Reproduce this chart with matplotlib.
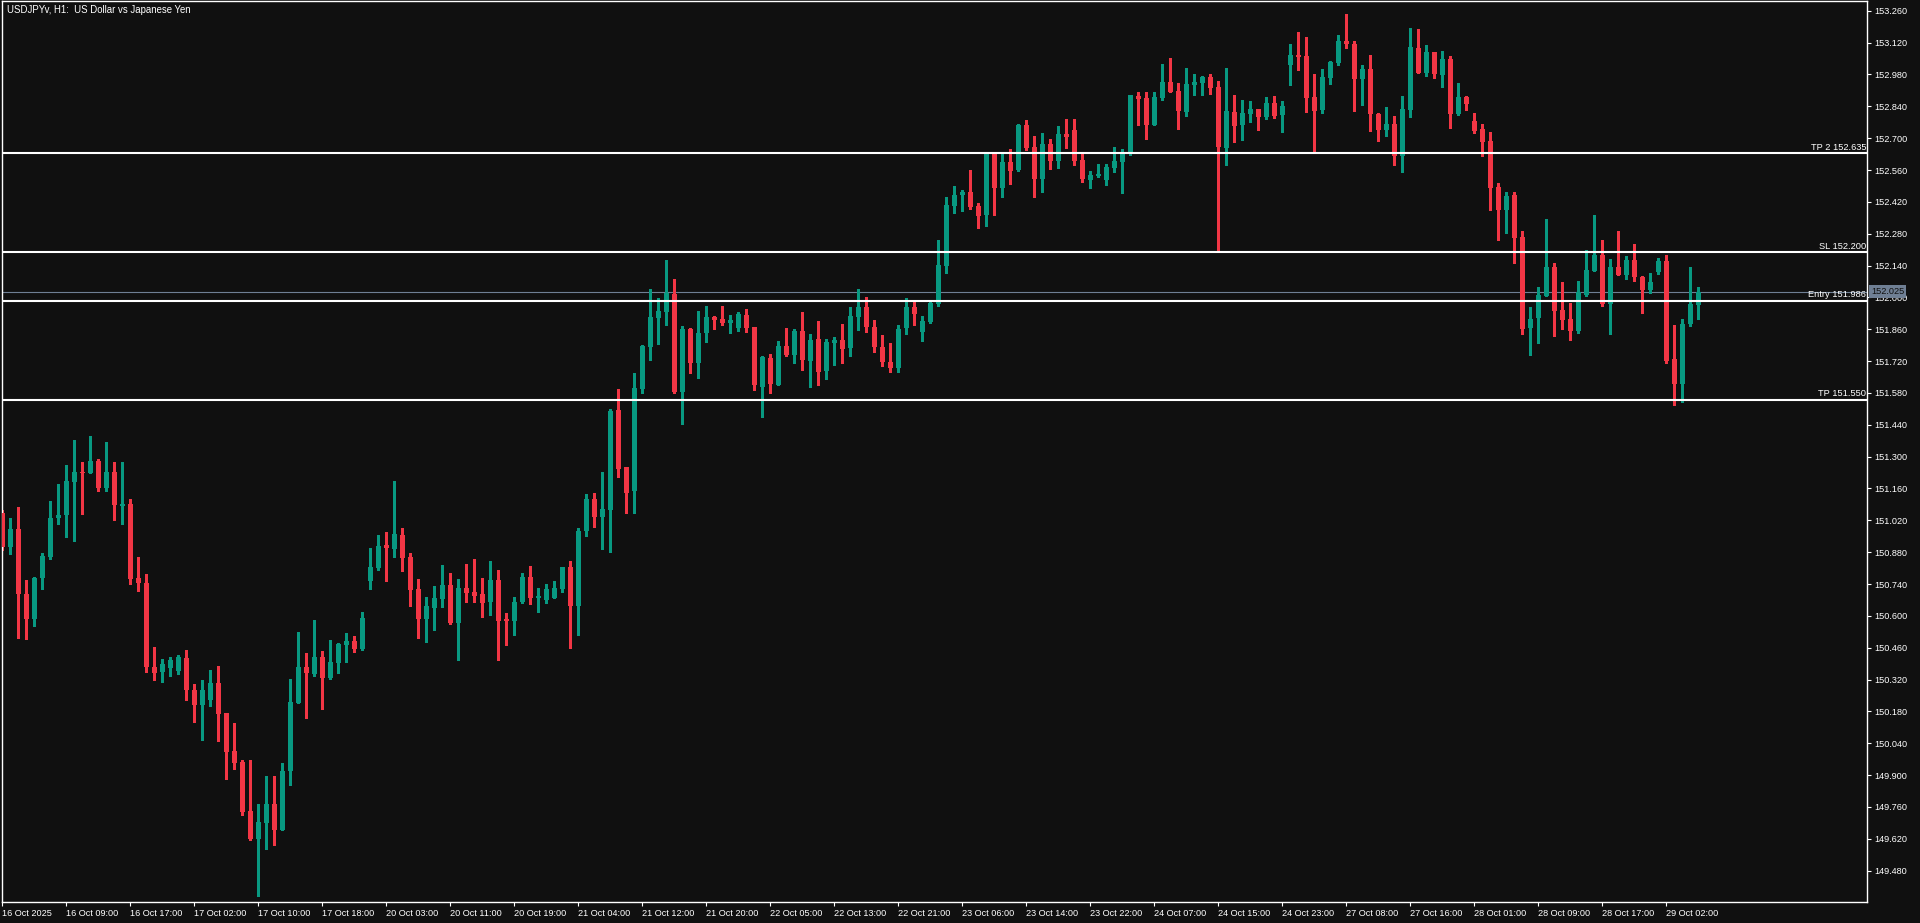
import numpy as np
import matplotlib
matplotlib.use("Agg")
import matplotlib.pyplot as plt
from matplotlib.transforms import blended_transform_factory

plt.rcParams['font.family'] = ['Liberation Sans', 'DejaVu Sans']

# USDJPYv H1 candles, 16 Oct 01:00 .. 29 Oct 04:00
opens = [151.052, 150.902, 150.981, 150.696, 150.586, 150.766, 150.858, 151.030, 151.043, 151.188,
         151.232, 151.228, 151.280, 151.162, 151.232, 151.083, 151.091, 150.766, 150.744, 150.375,
         150.353, 150.371, 150.357, 150.415, 150.274, 150.208, 150.230, 150.305, 150.173, 150.006,
         149.957, 149.743, 149.619, 149.690, 149.773, 149.659, 149.918, 150.217, 150.375, 150.344,
         150.419, 150.327, 150.393, 150.472, 150.489, 150.454, 150.753, 150.810, 150.911, 150.893,
         150.955, 150.858, 150.718, 150.586, 150.635, 150.674, 150.736, 150.569, 150.723, 150.705,
         150.696, 150.661, 150.758, 150.586, 150.578, 150.661, 150.771, 150.679, 150.670, 150.679,
         150.718, 150.815, 150.643, 150.973, 151.113, 151.034, 151.065, 151.505, 151.254, 151.149,
         151.597, 151.782, 151.909, 151.936, 152.014, 151.584, 151.861, 151.711, 151.843, 151.914,
         151.905, 151.887, 151.865, 151.922, 151.870, 151.606, 151.733, 151.615, 151.786, 151.747,
         151.852, 151.720, 151.817, 151.676, 151.799, 151.812, 151.777, 151.914, 151.958, 151.870,
         151.782, 151.716, 151.689, 151.865, 151.958, 151.848, 151.892, 151.971, 152.138, 152.401,
         152.450, 152.463, 152.401, 152.362, 152.630, 152.481, 152.595, 152.560, 152.758, 152.661,
         152.520, 152.674, 152.599, 152.718, 152.736, 152.604, 152.516, 152.533, 152.516, 152.569,
         152.595, 152.639, 152.885, 152.876, 152.758, 152.876, 152.947, 152.907, 152.815, 152.933,
         152.942, 152.969, 152.925, 152.656, 152.815, 152.758, 152.806, 152.828, 152.793, 152.854,
         152.801, 153.021, 153.065, 153.061, 152.881, 152.823, 152.964, 153.030, 153.127, 153.114,
         152.960, 153.004, 152.806, 152.736, 152.762, 152.621, 152.823, 153.096, 152.986, 153.078,
         152.977, 153.048, 152.806, 152.881, 152.775, 152.740, 152.687, 152.485, 152.384, 152.450,
         152.265, 151.865, 151.909, 152.006, 152.133, 151.944, 151.905, 151.852, 152.010, 152.116,
         152.186, 151.971, 152.133, 152.098, 152.164, 152.089, 152.032, 152.111, 152.160, 151.729,
         151.619, 151.883, 151.966]
highs = [151.065, 151.030, 151.078, 150.758, 150.771, 150.876, 151.105, 151.179, 151.263, 151.373,
         151.276, 151.391, 151.289, 151.364, 151.276, 151.276, 151.113, 150.858, 150.784, 150.463,
         150.410, 150.419, 150.428, 150.450, 150.300, 150.318, 150.362, 150.380, 150.173, 150.129,
         149.966, 149.966, 149.773, 149.896, 149.896, 149.953, 150.322, 150.529, 150.437, 150.582,
         150.446, 150.494, 150.481, 150.525, 150.511, 150.617, 150.898, 150.955, 150.968, 151.193,
         150.986, 150.876, 150.762, 150.683, 150.731, 150.823, 150.788, 150.762, 150.828, 150.849,
         150.766, 150.841, 150.801, 150.613, 150.683, 150.788, 150.819, 150.723, 150.740, 150.753,
         150.815, 150.841, 150.986, 151.135, 151.140, 151.232, 151.509, 151.597, 151.254, 151.667,
         151.791, 152.036, 151.997, 152.164, 152.081, 151.874, 151.865, 151.940, 151.962, 151.918,
         151.962, 151.922, 151.936, 151.949, 151.870, 151.742, 151.751, 151.808, 151.865, 151.861,
         151.936, 151.839, 151.896, 151.817, 151.826, 151.883, 151.958, 152.036, 152.001, 151.900,
         151.834, 151.799, 151.878, 151.997, 151.980, 151.918, 151.980, 152.252, 152.441, 152.489,
         152.472, 152.560, 152.415, 152.634, 152.630, 152.630, 152.652, 152.762, 152.780, 152.709,
         152.722, 152.696, 152.753, 152.784, 152.784, 152.630, 152.555, 152.586, 152.586, 152.661,
         152.652, 152.889, 152.903, 152.903, 152.903, 153.026, 153.052, 152.942, 153.008, 152.982,
         152.973, 152.982, 152.951, 153.008, 152.889, 152.867, 152.863, 152.828, 152.881, 152.885,
         152.863, 153.114, 153.166, 153.144, 152.982, 153.004, 153.039, 153.153, 153.245, 153.127,
         153.021, 153.065, 152.810, 152.837, 152.797, 152.885, 153.184, 153.180, 153.109, 153.078,
         153.083, 153.061, 152.942, 152.885, 152.810, 152.762, 152.727, 152.503, 152.463, 152.463,
         152.292, 151.958, 152.045, 152.344, 152.151, 152.067, 151.975, 152.072, 152.208, 152.362,
         152.252, 152.168, 152.292, 152.182, 152.234, 152.094, 152.107, 152.173, 152.186, 151.878,
         151.905, 152.133, 152.045]
lows = [150.889, 150.871, 150.503, 150.498, 150.556, 150.718, 150.849, 151.003, 150.946, 150.929,
        151.047, 151.228, 151.149, 151.149, 151.021, 151.003, 150.740, 150.709, 150.353, 150.318,
        150.309, 150.335, 150.344, 150.230, 150.133, 150.054, 150.204, 150.050, 149.883, 149.927,
        149.725, 149.615, 149.369, 149.575, 149.593, 149.659, 149.856, 150.217, 150.151, 150.335,
        150.190, 150.322, 150.349, 150.397, 150.441, 150.450, 150.718, 150.801, 150.753, 150.858,
        150.797, 150.643, 150.503, 150.485, 150.538, 150.639, 150.564, 150.406, 150.661, 150.661,
        150.595, 150.604, 150.406, 150.472, 150.516, 150.657, 150.652, 150.617, 150.657, 150.679,
        150.705, 150.459, 150.516, 150.951, 150.990, 150.893, 150.880, 151.210, 151.052, 151.052,
        151.579, 151.725, 151.795, 151.878, 151.579, 151.443, 151.667, 151.645, 151.804, 151.861,
        151.878, 151.843, 151.852, 151.848, 151.593, 151.474, 151.579, 151.615, 151.742, 151.711,
        151.681, 151.606, 151.615, 151.641, 151.703, 151.711, 151.742, 151.856, 151.848, 151.760,
        151.698, 151.672, 151.672, 151.839, 151.878, 151.808, 151.887, 151.962, 152.107, 152.371,
        152.380, 152.388, 152.305, 152.314, 152.362, 152.441, 152.498, 152.555, 152.648, 152.441,
        152.463, 152.564, 152.569, 152.656, 152.582, 152.507, 152.481, 152.529, 152.494, 152.551,
        152.459, 152.626, 152.758, 152.696, 152.758, 152.867, 152.903, 152.740, 152.797, 152.889,
        152.889, 152.894, 152.199, 152.582, 152.683, 152.692, 152.771, 152.736, 152.784, 152.788,
        152.727, 152.933, 152.999, 152.815, 152.639, 152.810, 152.938, 153.021, 153.096, 152.819,
        152.845, 152.731, 152.687, 152.709, 152.582, 152.551, 152.793, 152.986, 152.973, 152.964,
        152.925, 152.744, 152.801, 152.823, 152.722, 152.621, 152.384, 152.252, 152.283, 152.151,
        151.839, 151.747, 151.799, 152.006, 151.830, 151.861, 151.812, 151.843, 152.006, 152.116,
        151.962, 151.839, 152.098, 152.081, 152.072, 151.931, 152.019, 152.103, 151.711, 151.527,
        151.540, 151.874, 151.905]
closes = [150.902, 150.981, 150.696, 150.586, 150.766, 150.863, 151.030, 151.043, 151.193, 151.232,
          151.228, 151.280, 151.162, 151.232, 151.087, 151.091, 150.762, 150.744, 150.375, 150.349,
          150.388, 150.406, 150.419, 150.274, 150.208, 150.274, 150.305, 150.168, 150.001, 149.953,
          149.738, 149.619, 149.694, 149.773, 149.659, 149.918, 150.221, 150.375, 150.349, 150.419,
          150.327, 150.397, 150.476, 150.489, 150.454, 150.591, 150.815, 150.907, 150.898, 150.960,
          150.854, 150.714, 150.586, 150.643, 150.679, 150.736, 150.569, 150.723, 150.701, 150.687,
          150.657, 150.758, 150.578, 150.578, 150.661, 150.771, 150.679, 150.687, 150.718, 150.723,
          150.815, 150.643, 150.973, 151.113, 151.034, 151.069, 151.500, 151.245, 151.140, 151.601,
          151.786, 151.914, 151.940, 152.019, 151.584, 151.861, 151.711, 151.843, 151.914, 151.900,
          151.887, 151.900, 151.927, 151.865, 151.615, 151.738, 151.619, 151.786, 151.747, 151.852,
          151.725, 151.812, 151.672, 151.804, 151.812, 151.773, 151.918, 151.958, 151.870, 151.782,
          151.716, 151.689, 151.861, 151.958, 151.927, 151.896, 151.975, 152.142, 152.406, 152.450,
          152.463, 152.397, 152.357, 152.630, 152.481, 152.595, 152.555, 152.758, 152.656, 152.520,
          152.674, 152.599, 152.718, 152.705, 152.599, 152.520, 152.538, 152.542, 152.573, 152.599,
          152.630, 152.889, 152.872, 152.758, 152.881, 152.947, 152.903, 152.819, 152.938, 152.947,
          152.969, 152.920, 152.661, 152.819, 152.753, 152.810, 152.828, 152.793, 152.854, 152.797,
          152.841, 153.065, 153.056, 152.876, 152.819, 152.969, 153.034, 153.127, 153.114, 152.960,
          153.004, 152.806, 152.736, 152.762, 152.621, 152.828, 153.100, 152.986, 153.078, 152.982,
          153.048, 152.806, 152.881, 152.850, 152.731, 152.683, 152.481, 152.384, 152.446, 152.261,
          151.861, 151.905, 152.010, 152.133, 151.940, 151.900, 151.852, 152.023, 152.120, 152.186,
          151.971, 152.133, 152.098, 152.164, 152.089, 152.032, 152.067, 152.160, 151.720, 151.619,
          151.883, 151.971, 152.025]

time_labels = ["16 Oct 2025", "16 Oct 09:00", "16 Oct 17:00", "17 Oct 02:00", "17 Oct 10:00",
               "17 Oct 18:00", "20 Oct 03:00", "20 Oct 11:00", "20 Oct 19:00", "21 Oct 04:00",
               "21 Oct 12:00", "21 Oct 20:00", "22 Oct 05:00", "22 Oct 13:00", "22 Oct 21:00",
               "23 Oct 06:00", "23 Oct 14:00", "23 Oct 22:00", "24 Oct 07:00", "24 Oct 15:00",
               "24 Oct 23:00", "27 Oct 08:00", "27 Oct 16:00", "28 Oct 01:00", "28 Oct 09:00",
               "28 Oct 17:00", "29 Oct 02:00"]
label_step = 8  # one time label every 8 bars

price_ticks = [153.260, 153.120, 152.980, 152.840, 152.700, 152.560, 152.420, 152.280, 152.140,
               152.000, 151.860, 151.720, 151.580, 151.440, 151.300, 151.160, 151.020, 150.880,
               150.740, 150.600, 150.460, 150.320, 150.180, 150.040, 149.900, 149.760, 149.620,
               149.480]

level_names = ["TP 2", "SL", "Entry", "TP"]
level_prices = [152.635, 152.200, 151.986, 151.550]
last_price = 152.025

bg = "#101010"
up_col = "#089981"
down_col = "#f23645"
bid_col = "#6f7f94"

W, H = 1920, 923
fig = plt.figure(figsize=(W / 100, H / 100), dpi=100, facecolor=bg)
ax = fig.add_axes([2 / W, (H - 902) / H, (1867 - 2) / W, (902 - 1) / H])
ax.set_facecolor(bg)

o = np.array(opens)
h = np.array(highs)
l = np.array(lows)
c = np.array(closes)
x = np.arange(len(o))
cols = np.where(c >= o, up_col, down_col)

# wicks and bodies
ax.vlines(x, l, h, colors=cols, linewidth=0.75, antialiased=False, zorder=2)
body_low = np.minimum(o, c)
body_h = np.maximum(np.abs(c - o), 0.0045)
ax.bar(x, body_h, bottom=body_low, width=0.62, color=cols, linewidth=0,
       antialiased=False, zorder=3)

# trade levels
trans = blended_transform_factory(ax.transAxes, ax.transData)
ax.axhline(last_price, color=bid_col, linewidth=0.8, zorder=1)
for name, p in zip(level_names, level_prices):
    ax.axhline(p, color="white", linewidth=1.5, zorder=4)
    ax.text(0.9995, p + 0.006, f"{name} {p:.3f}", transform=trans, ha="right", va="bottom",
            color="white", fontsize=6.7, zorder=5)

ax.set_xlim(-0.04, 233.09)
ax.set_ylim(149.342, 153.303)

# price axis on the right
ax.yaxis.tick_right()
ax.set_yticks(price_ticks)
ax.set_yticklabels([f"{p:.3f}" for p in price_ticks])
ax.tick_params(axis="y", colors="white", labelcolor="white", length=3, width=0.8,
               labelsize=6.6, pad=2, direction="out")

# time axis
ax.set_xticks(np.arange(len(time_labels)) * label_step)
ax.set_xticklabels(time_labels)
for t in ax.get_xticklabels():
    t.set_ha("left")
ax.tick_params(axis="x", colors="white", labelcolor="white", length=3, width=0.8,
               labelsize=6.6, pad=2, direction="out")

for s in ax.spines.values():
    s.set_color("white")
    s.set_linewidth(1)

# current price badge
ax.annotate(f"{last_price:.3f}", xy=(1, last_price), xycoords=trans,
            xytext=(4, 0), textcoords="offset pixels", ha="left", va="center",
            color="#101010", fontsize=6.6, annotation_clip=False, zorder=6,
            bbox=dict(boxstyle="square,pad=0.2", fc=bid_col, ec="none"))

fig.text(7 / W, 1 - 10 / H, "USDJPYv, H1:  US Dollar vs Japanese Yen", ha="left", va="center",
         color="white", fontsize=6.9)

fig.savefig("out.png", dpi=100, facecolor=bg)
